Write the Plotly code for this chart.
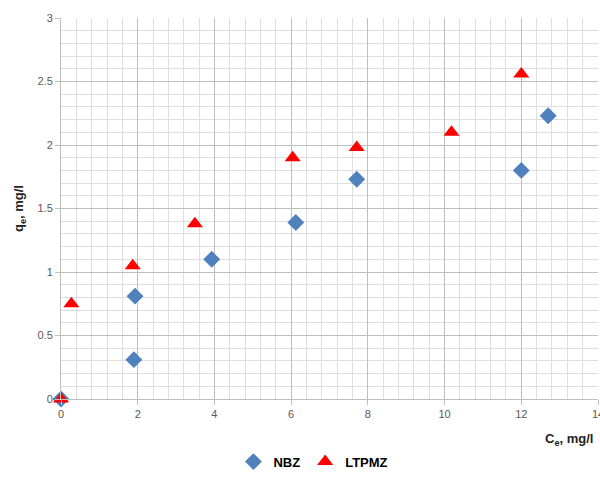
import plotly.graph_objects as go

nbz_x = [0, 1.9, 1.93, 3.93, 6.12, 7.71, 12.0, 12.7]
nbz_y = [0, 0.31, 0.81, 1.10, 1.39, 1.73, 1.80, 2.23]
lt_x = [0, 0.27, 1.87, 3.49, 6.04, 7.71, 10.18, 12.0]
lt_y = [0, 0.75, 1.05, 1.38, 1.90, 1.98, 2.10, 2.56]

FONT = "Liberation Sans"

fig = go.Figure()
fig.add_trace(go.Scatter(x=nbz_x, y=nbz_y, mode="markers", name="NBZ", cliponaxis=False,
                         marker=dict(symbol="diamond", size=13, color="#4f81bd")))
fig.add_trace(go.Scatter(x=lt_x, y=lt_y, mode="markers", name="LTPMZ", cliponaxis=False,
                         marker=dict(symbol="triangle-up", size=14, color="#ff0000")))

fig.update_layout(
    width=600, height=480,
    margin=dict(l=61, r=2, t=18, b=81, autoexpand=False),
    paper_bgcolor="white", plot_bgcolor="white",
    font=dict(family=FONT, size=11, color="#595959"),
    showlegend=True,
    legend=dict(orientation="h", x=0.47, xanchor="center", y=-0.125, yanchor="top",
                font=dict(family=FONT, size=13, color="black", weight="bold"),
                itemwidth=30, tracegroupgap=0),
    xaxis=dict(range=[0, 14], dtick=2, tick0=0, showgrid=True, gridcolor="#bfbfbf", gridwidth=1,
               zeroline=False, showline=True, linecolor="#bfbfbf",
               ticks="outside", ticklen=5, tickcolor="#bfbfbf", ticklabeloverflow="allow",
               minor=dict(dtick=0.4, tick0=0, showgrid=True, gridcolor="#dedede", gridwidth=1),
               tickfont=dict(size=11, color="#595959")),
    yaxis=dict(range=[0, 3], dtick=0.5, tick0=0, showgrid=True, gridcolor="#bfbfbf", gridwidth=1,
               zeroline=False, showline=True, linecolor="#bfbfbf",
               ticks="outside", ticklen=5, tickcolor="#bfbfbf",
               minor=dict(dtick=0.1, tick0=0, showgrid=True, gridcolor="#dedede", gridwidth=1),
               tickfont=dict(size=11, color="#595959"),
               title=dict(text="q<sub>e</sub>, mg/l", standoff=10,
                          font=dict(family=FONT, size=13, color="#222222", weight="bold"))),
    annotations=[dict(text="C<sub>e</sub>, mg/l", xref="paper", yref="paper", x=0.995, y=-0.08,
                      xanchor="right", yanchor="top", showarrow=False,
                      font=dict(family=FONT, size=13, color="#222222", weight="bold"))],
)

fig.write_html("out.html", config={"displayModeBar": False},
               post_script="document.body.style.margin='0';")
